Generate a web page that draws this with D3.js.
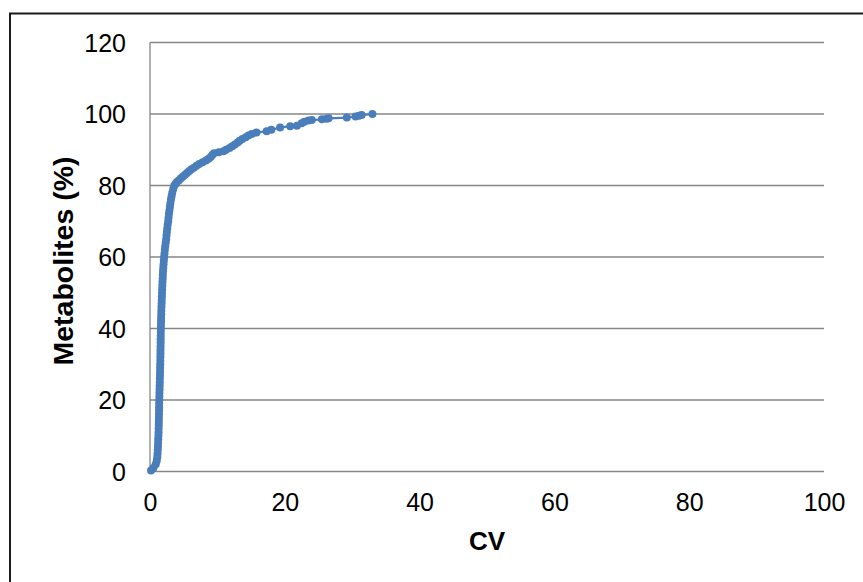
<!DOCTYPE html>
<html>
<head>
<meta charset="utf-8">
<script src="https://cdn.jsdelivr.net/npm/d3@7"></script>
<style>
  body { margin: 0; background: #fff; }
  svg { display: block; font-family: "Liberation Sans", Arial, sans-serif; }
</style>
</head>
<body>
<script>
// CV of each metabolite, sorted, with cumulative percentage of metabolites
let cvValues = [
  0.15, 0.5, 0.85, 1.0, 1.08, 1.12, 1.15, 1.18, 1.2, 1.22,
  1.25, 1.27, 1.28, 1.3, 1.31, 1.32, 1.33, 1.34, 1.35, 1.36,
  1.38, 1.39, 1.4, 1.42, 1.43, 1.45, 1.46, 1.48, 1.49, 1.5,
  1.52, 1.53, 1.54, 1.55, 1.56, 1.57, 1.58, 1.58, 1.59, 1.6,
  1.61, 1.62, 1.64, 1.65, 1.67, 1.68, 1.7, 1.72, 1.74, 1.76,
  1.78, 1.8, 1.83, 1.85, 1.88, 1.9, 1.93, 1.97, 2.01, 2.05,
  2.1, 2.15, 2.2, 2.26, 2.33, 2.4, 2.45, 2.5, 2.56, 2.62,
  2.7, 2.75, 2.81, 2.88, 2.95, 3.02, 3.1, 3.2, 3.3, 3.45,
  3.62, 3.8, 4.0, 4.3, 4.6, 4.9, 5.2, 5.5, 5.8, 6.1,
  6.5, 6.9, 7.3, 7.8, 8.3, 8.7, 9.0, 9.25, 9.5, 10.2,
  10.9, 11.3, 11.8, 12.2, 12.6, 13.0, 13.3, 13.7, 14.2, 14.6,
  15.1, 15.8, 17.3, 18.0, 19.3, 20.8, 21.8, 22.5, 22.9, 23.5,
  24.0, 25.5, 26.2, 26.5, 29.2, 30.5, 31.0, 31.4, 33.0
];
let pctValues = [
  0.3, 1, 2, 3, 4, 5, 6, 7, 8, 9,
  10, 11, 12, 13, 14, 15, 16, 17, 18, 19,
  20, 21, 22, 23, 24, 25, 26, 27, 28, 29,
  30, 31, 32, 33, 34, 35, 36, 37, 38, 39,
  40, 41, 42, 43, 44, 45, 46, 47, 48, 49,
  50, 51, 52, 53, 54, 55, 56, 57, 58, 59,
  60, 61, 62, 63, 64, 65, 66, 67, 68, 69,
  70, 71, 72, 73, 74, 75, 76, 77, 78, 79,
  80, 80.5, 81, 81.5, 82, 82.5, 83, 83.5, 84, 84.5,
  85, 85.5, 86, 86.5, 87, 87.5, 88, 88.5, 89, 89.3,
  89.6, 90, 90.5, 91, 91.5, 92, 92.5, 93, 93.5, 94,
  94.4, 94.8, 95.2, 95.6, 96.2, 96.6, 96.7, 97.4, 97.8, 98.2,
  98.3, 98.5, 98.7, 98.8, 99.0, 99.3, 99.5, 99.7, 100
];
let xTicks = [0, 20, 40, 60, 80, 100];
let yTicks = [0, 20, 40, 60, 80, 100, 120];

let data = cvValues.map((v, i) => ({ cv: v, pct: pctValues[i] }));

let frame = { width: 863, height: 582 };
let plot = { left: 150, top: 42.5, right: 824, bottom: 471.5 };
let blue = '#4a7ebb';

let svg = d3.select('body')
  .append('svg')
  .attr('width', frame.width)
  .attr('height', frame.height);

// outer chart border (only top/left visible in the crop)
svg.append('rect')
  .attr('x', 10).attr('y', 13.5)
  .attr('width', 900).attr('height', 700)
  .attr('fill', 'none')
  .attr('stroke', '#1a1a1a')
  .attr('stroke-width', 2);

let xScale = d3.scaleLinear().domain([0, 100]).range([plot.left, plot.right]);
let yScale = d3.scaleLinear().domain([0, 120]).range([plot.bottom, plot.top]);

// gridlines
svg.append('g')
  .selectAll('line')
  .data(yTicks)
  .enter()
  .append('line')
  .attr('x1', plot.left).attr('x2', plot.right)
  .attr('y1', d => yScale(d)).attr('y2', d => yScale(d))
  .attr('stroke', '#868686')
  .attr('stroke-width', 1.3);

// y axis line
svg.append('line')
  .attr('x1', plot.left).attr('x2', plot.left)
  .attr('y1', plot.top).attr('y2', plot.bottom)
  .attr('stroke', '#868686')
  .attr('stroke-width', 1.3);

let yAxis = svg.append('g')
  .attr('transform', `translate(${plot.left - 24}, 0)`)
  .call(d3.axisLeft(yScale).tickValues(yTicks).tickSize(0).tickPadding(0));
yAxis.select('.domain').remove();
yAxis.selectAll('text')
  .attr('font-size', 25).attr('font-family', null).attr('fill', '#000')
  .attr('dy', '0.35em');

let xAxis = svg.append('g')
  .attr('transform', `translate(0, ${plot.bottom})`)
  .call(d3.axisBottom(xScale).tickValues(xTicks).tickSize(0).tickPadding(22));
xAxis.select('.domain').remove();
xAxis.selectAll('text')
  .attr('font-size', 25).attr('font-family', null).attr('fill', '#000');

// series line + markers
svg.append('path')
  .datum(data)
  .attr('fill', 'none')
  .attr('stroke', blue)
  .attr('stroke-width', 2.2)
  .attr('d', d3.line().x(d => xScale(d.cv)).y(d => yScale(d.pct)));

svg.append('g')
  .selectAll('circle')
  .data(data)
  .enter()
  .append('circle')
  .attr('cx', d => xScale(d.cv))
  .attr('cy', d => yScale(d.pct))
  .attr('r', 4)
  .attr('fill', blue);

// axis titles
svg.append('text')
  .attr('x', 487).attr('y', 550)
  .attr('text-anchor', 'middle')
  .attr('font-size', 26).attr('font-weight', 'bold')
  .text('CV');

svg.append('text')
  .attr('transform', 'translate(73, 261) rotate(-90)')
  .attr('text-anchor', 'middle')
  .attr('font-size', 28.5).attr('font-weight', 'bold')
  .text('Metabolites (%)');
</script>
</body>
</html>
